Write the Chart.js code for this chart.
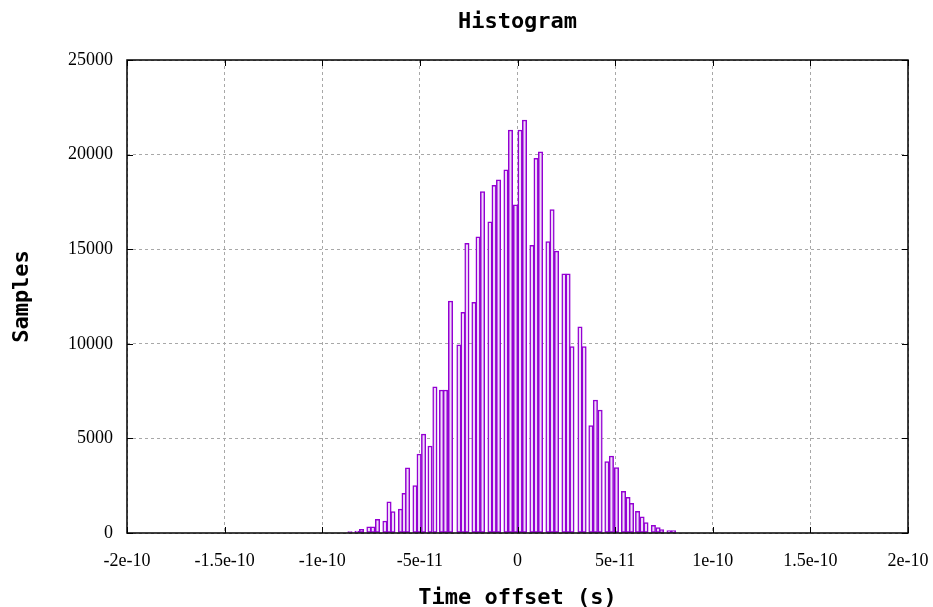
<!DOCTYPE html>
<html>
<head>
<meta charset="utf-8">
<title>Histogram</title>
<script src="https://cdn.jsdelivr.net/npm/chart.js@4.4.1/dist/chart.umd.min.js"></script>
<style>
  html, body { margin: 0; padding: 0; background: #fff; }
  #wrap { width: 933px; height: 607px; }
</style>
</head>
<body>
<div id="wrap"><canvas id="histChart" width="933" height="607"></canvas></div>
<script>
// bin centres (picoseconds) and counts
const offsetsPs = [
    -85.8, -82.2, -79.9, -76.1, -74.1, -71.7, -67.9, -65.8, -63.8, -59.9,
    -58.1, -56.3, -52.5, -50.4, -48.1, -44.8, -42.3, -38.9, -36.9, -34.3,
    -30.0, -27.9, -25.9, -22.3, -20.2, -17.9, -14.1, -12.0, -9.7, -5.9,
    -3.6, -1.0, 1.3, 3.6, 7.4, 9.5, 11.8, 15.6, 17.7, 20.0,
    23.8, 25.9, 27.9, 32.0, 34.1, 37.6, 39.9, 42.3, 45.8, 48.1,
    50.7, 54.3, 56.6, 58.4, 61.5, 63.8, 65.8, 69.6, 72.0, 73.8,
    77.6, 79.9
];
const samples = [
    80, 100, 200, 330, 330, 720, 630, 1650, 1130, 1260,
    2100, 3450, 2500, 4170, 5230, 4600, 7730, 7560, 7560, 12260,
    9940, 11660, 15310, 12190, 15660, 18040, 16450, 18370, 18660, 19190,
    21300, 17340, 21300, 21830, 15200, 19800, 20140, 15400, 17100, 14900,
    13700, 13700, 9850, 10900, 9850, 5680, 7030, 6500, 3770, 4070,
    3460, 2200, 1890, 1570, 1150, 860, 550, 400, 290, 180,
    130, 130
];

// axis ticks (x in ps, labelled in seconds like the original)
const xTicks = [-200, -150, -100, -50, 0, 50, 100, 150, 200];
const xTickLabels = ['-2e-10', '-1.5e-10', '-1e-10', '-5e-11', '0', '5e-11', '1e-10', '1.5e-10', '2e-10'];
const yTicks = [0, 5000, 10000, 15000, 20000, 25000];

const VIOLET = '#9400d3';
const monoBold = { family: "'DejaVu Sans Mono', monospace", size: 22, weight: 'bold', lineHeight: 1 };
const serif = { family: "'Liberation Serif', 'Times New Roman', serif", size: 18 };

// black frame with small inward tick marks on all four sides
const framePlugin = {
    id: 'frame',
    afterDatasetsDraw(chart) {
        const { ctx, chartArea: a, scales: { x, y } } = chart;
        ctx.save();
        ctx.strokeStyle = '#000';
        ctx.lineWidth = 1;
        ctx.beginPath();
        xTicks.forEach(v => {
            const px = Math.round(x.getPixelForValue(v)) + 0.5;
            ctx.moveTo(px, a.bottom); ctx.lineTo(px, a.bottom - 6);
            ctx.moveTo(px, a.top); ctx.lineTo(px, a.top + 6);
        });
        yTicks.forEach(v => {
            const py = Math.round(y.getPixelForValue(v)) + 0.5;
            ctx.moveTo(a.left, py); ctx.lineTo(a.left + 6, py);
            ctx.moveTo(a.right, py); ctx.lineTo(a.right - 6, py);
        });
        ctx.stroke();
        ctx.lineWidth = 1.5;
        ctx.strokeRect(a.left, a.top, a.width, a.height);
        ctx.restore();
    }
};

const ctx = document.getElementById('histChart');
new Chart(ctx, {
    type: 'bar',
    data: {
        datasets: [{
            label: 'Samples',
            data: offsetsPs.map((x, i) => ({ x: x, y: samples[i] })),
            backgroundColor: '#efdcf8',
            borderColor: VIOLET,
            borderWidth: 1.5,
            borderSkipped: false,
            barThickness: 4.4
        }]
    },
    options: {
        responsive: false,
        animation: false,
        layout: { padding: { left: 0, right: 25, top: 0, bottom: 0 } },
        plugins: {
            legend: { display: false },
            tooltip: { enabled: false },
            title: {
                display: true,
                fullSize: false,
                text: 'Histogram',
                color: '#000',
                font: { family: "'DejaVu Sans Mono', monospace", size: 22, weight: 'bold', lineHeight: 1.2 },
                padding: { top: 9, bottom: 24.6 }
            }
        },
        scales: {
            x: {
                type: 'linear',
                offset: false,
                min: -200,
                max: 200,
                afterBuildTicks: s => { s.ticks = xTicks.map(v => ({ value: v })); },
                afterFit: s => { s.height = 74; s.paddingLeft = 0; s.paddingRight = 0; },
                ticks: {
                    autoSkip: false,
                    maxRotation: 0,
                    padding: 17,
                    color: '#000',
                    font: serif,
                    callback: v => xTickLabels[xTicks.indexOf(v)]
                },
                grid: { offset: false, color: '#a8a8a8', lineWidth: 1, drawTicks: false },
                border: { display: false, dash: [3, 3] },
                title: {
                    display: true,
                    text: 'Time offset (s)',
                    color: '#000',
                    font: monoBold,
                    padding: { top: 0, bottom: -2 }
                }
            },
            y: {
                min: 0,
                max: 25000,
                afterBuildTicks: s => { s.ticks = yTicks.map(v => ({ value: v })); },
                afterFit: s => { s.width = 127; s.paddingTop = 0; s.paddingBottom = 0; },
                ticks: {
                    padding: 14,
                    color: '#000',
                    font: serif,
                    callback: v => String(v)
                },
                grid: { color: '#a8a8a8', lineWidth: 1, drawTicks: false },
                border: { display: false, dash: [3, 3] },
                title: {
                    display: true,
                    text: 'Samples',
                    color: '#000',
                    font: monoBold,
                    padding: { top: 11, bottom: 0 }
                }
            }
        }
    },
    plugins: [framePlugin]
});
</script>
</body>
</html>
